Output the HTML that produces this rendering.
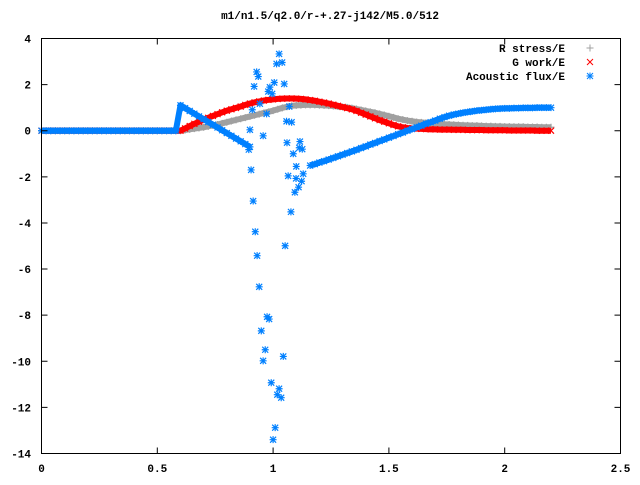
<!DOCTYPE html>
<html><head><meta charset="utf-8"><style>
body{margin:0;background:#fff}
svg text{font-family:"Liberation Mono","DejaVu Sans Mono",monospace;font-size:11px;font-weight:bold;fill:#000}
</style></head><body>
<svg id="chart" width="640" height="480" xmlns="http://www.w3.org/2000/svg">
<rect width="640" height="480" fill="#fff"/>
<text x="330" y="19" text-anchor="middle">m1/n1.5/q2.0/r-+.27-j142/M5.0/512</text>
<g id="marks"></g>
<rect x="41.5" y="38.5" width="579" height="415" fill="none" stroke="#000" stroke-width="1"/>
<g id="axes"></g>
<g id="legend">
<text x="565" y="52" text-anchor="end">R stress/E</text>
<text x="565" y="66" text-anchor="end">G work/E</text>
<text x="565" y="80" text-anchor="end">Acoustic flux/E</text>
</g>
</svg>
<script>
const xTicks=[0,0.5,1,1.5,2,2.5];
const xTickLabels=["0","0.5","1","1.5","2","2.5"];
const yTicks=[4,2,0,-2,-4,-6,-8,-10,-12,-14];
const yTickLabels=["4","2","0","-2","-4","-6","-8","-10","-12","-14"];
const flatX=[0,0.02,0.04,0.06,0.08,0.1,0.12,0.14,0.16,0.18,0.2,0.22,0.24,0.26,0.28,0.3,0.32,0.34,0.36,0.38,0.4,0.42,0.44,0.46,0.48,0.5,0.52,0.54,0.56,0.58];
const curveStart=0.6, curveStep=0.02;
const rStress=[0,0.03,0.06,0.09,0.12,0.15,0.19,0.23,0.27,0.32,0.37,0.42,0.47,0.52,0.57,0.62,0.67,0.72,0.77,0.82,0.87,0.93,0.99,1.04,1.08,1.1,1.11,1.12,1.12,1.12,1.11,1.1,1.09,1.07,1.05,1.03,1.01,0.98,0.94,0.9,0.86,0.82,0.78,0.73,0.68,0.63,0.58,0.52,0.48,0.44,0.41,0.38,0.36,0.34,0.32,0.31,0.3,0.28,0.27,0.26,0.25,0.24,0.23,0.22,0.22,0.21,0.2,0.2,0.19,0.19,0.18,0.18,0.17,0.17,0.17,0.16,0.16,0.16,0.15,0.15,0.15];
const gWork=[0,0.1,0.2,0.3,0.39,0.48,0.56,0.64,0.72,0.8,0.87,0.93,0.99,1.05,1.12,1.18,1.23,1.27,1.31,1.34,1.36,1.38,1.39,1.4,1.4,1.39,1.38,1.36,1.33,1.3,1.26,1.22,1.18,1.13,1.08,1.03,0.98,0.93,0.86,0.78,0.7,0.62,0.54,0.46,0.39,0.32,0.25,0.19,0.15,0.12,0.1,0.09,0.08,0.07,0.06,0.06,0.05,0.05,0.05,0.04,0.04,0.04,0.03,0.03,0.03,0.03,0.02,0.02,0.02,0.02,0.02,0.01,0.01,0.01,0.01,0.01,0.01,0,0,0,0];
const acoustic1Start=0.6;
const acoustic1=[1.1,0.98,0.86,0.74,0.62,0.5,0.38,0.26,0.14,0.02,-0.1,-0.22,-0.34,-0.46,-0.58,-0.7];
const acoustic2Start=1.16;
const acoustic2=[-1.51,-1.45,-1.38,-1.32,-1.25,-1.18,-1.11,-1.04,-0.97,-0.9,-0.83,-0.75,-0.68,-0.6,-0.53,-0.45,-0.38,-0.3,-0.23,-0.15,-0.08,0,0.07,0.15,0.22,0.3,0.37,0.44,0.52,0.59,0.65,0.7,0.74,0.78,0.81,0.84,0.87,0.89,0.91,0.93,0.95,0.96,0.97,0.97,0.98,0.98,0.99,0.99,0.99,1,1,1,1];
const scatterX=[1.026,1.015,1.039,0.929,0.936,0.918,1.005,1.048,0.986,0.979,0.996,0.943,0.910,0.972,1.070,1.058,1.080,0.900,0.957,0.895,1.060,1.116,1.113,1.126,1.087,1.100,1.065,1.099,1.123,1.130,1.110,1.094,0.905,0.914,1.077,0.923,1.052,0.931,0.940,0.974,0.983,0.949,0.966,0.957,1.044,0.992,1.026,1.018,1.035,1.009,1.000];
const scatterY=[3.33,2.90,2.96,2.55,2.35,1.92,2.09,2.03,1.89,1.70,1.60,1.17,0.91,0.73,1.05,0.41,0.37,0.04,-0.22,-0.82,-0.52,-0.47,-0.74,-0.80,-1.00,-1.55,-1.96,-2.07,-2.19,-1.87,-2.45,-2.67,-1.70,-3.05,-3.52,-4.38,-4.99,-5.42,-6.77,-8.07,-8.17,-8.68,-9.50,-9.98,-9.79,-10.93,-11.19,-11.45,-11.58,-12.88,-13.40];

const X0=41.5,X1=620.5,Y0=453.5,Y1=38.5;
function sx(v){return X0+(v-0)/(2.5-0)*(X1-X0);}
function sy(v){return Y0-(v-(-14))/(4-(-14))*(Y0-Y1);}
const NS="http://www.w3.org/2000/svg";
const axes=document.getElementById('axes'), marks=document.getElementById('marks');
function mk(tag,attrs,parent){const e=document.createElementNS(NS,tag);for(const k in attrs)e.setAttribute(k,attrs[k]);parent.appendChild(e);return e;}
xTicks.forEach((t,i)=>{
  const x=sx(t);
  const l=mk('path',{d:`M${x},${Y0}v-6M${x},${Y1}v6`,stroke:'#000','stroke-width':1},axes);
  
  
  const tx=mk('text',{x:x,y:472,'text-anchor':'middle'},axes);tx.textContent=xTickLabels[i];
  
  
});
yTicks.forEach((t,i)=>{
  const y=sy(t);
  const l=mk('path',{d:`M${X0},${y}h6M${X1},${y}h-6`,stroke:'#000','stroke-width':1},axes);
  
  
  const tx=mk('text',{x:31,y:y+4,'text-anchor':'end'},axes);tx.textContent=yTickLabels[i];
  
  
});
function plus(px,py,g){mk('path',{d:`M${px-3.5},${py}h7M${px},${py-3.5}v7`},g);}
function cross(px,py,g){mk('path',{d:`M${px-3},${py-3}l6,6M${px-3},${py+3}l6,-6`},g);}
function star(px,py,g){mk('path',{d:`M${px-3.5},${py}h7M${px},${py-3.5}v7M${px-3},${py-3}l6,6M${px-3},${py+3}l6,-6`},g);}
function band(pts,color,w,g){mk('polyline',{points:pts.map(p=>p[0]+','+p[1]).join(' '),stroke:color,'stroke-width':w,fill:'none','stroke-linejoin':'round'},g);}
const gR=mk('g',{stroke:'#a0a0a0','stroke-width':1.2,fill:'none'},marks);


const gG=mk('g',{stroke:'#ff0000','stroke-width':1.2,fill:'none'},marks);


const gA=mk('g',{stroke:'#0080ff','stroke-width':1.2,fill:'none'},marks);


const flatPts=flatX.map(v=>[sx(v),sy(0)]);
const rPts=flatPts.concat(rStress.map((v,i)=>[sx(curveStart+i*curveStep),sy(v)]));
const gPts=flatPts.concat(gWork.map((v,i)=>[sx(curveStart+i*curveStep),sy(v)]));
const a1Pts=flatPts.concat(acoustic1.map((v,i)=>[sx(acoustic1Start+i*curveStep),sy(v)]));
const a2Pts=acoustic2.map((v,i)=>[sx(acoustic2Start+i*curveStep),sy(v)]);
band(rPts,'#a0a0a0',6,gR);
rPts.forEach(p=>plus(p[0],p[1],gR));
band(gPts,'#ff0000',6,gG);
gPts.forEach(p=>cross(p[0],p[1],gG));
band(a1Pts,'#0080ff',6,gA);
a1Pts.forEach(p=>star(p[0],p[1],gA));
band(a2Pts,'#0080ff',6,gA);
a2Pts.forEach(p=>star(p[0],p[1],gA));
scatterX.forEach((v,i)=>star(sx(v),sy(scatterY[i]),gA));
const lg=document.getElementById('legend');
const l1=mk('g',{stroke:'#a0a0a0','stroke-width':1},lg);plus(590,48,l1);


const l2=mk('g',{stroke:'#ff0000','stroke-width':1},lg);cross(590,62,l2);


const l3=mk('g',{stroke:'#0080ff','stroke-width':1},lg);star(590,76,l3);


</script>
</body></html>
